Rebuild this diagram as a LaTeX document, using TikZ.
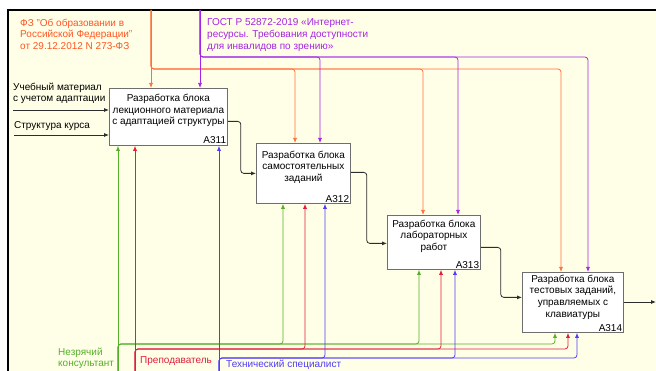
\documentclass[tikz,border=0pt]{standalone}
\usepackage{fontspec}
\setmainfont{Liberation Sans}
\usetikzlibrary{arrows.meta}
\definecolor{bgc}{RGB}{255,255,232}
\definecolor{boxc}{RGB}{110,110,110}
\definecolor{flowc}{RGB}{45,45,45}
\definecolor{fzc}{RGB}{255,85,35}
\definecolor{fzl}{RGB}{255,110,60}
\definecolor{gostc}{RGB}{165,35,230}
\definecolor{greenc}{RGB}{85,175,40}
\definecolor{redc}{RGB}{225,30,60}
\definecolor{bluec}{RGB}{80,60,250}
\begin{document}
\begin{tikzpicture}[x=1pt,y=-1pt,
  every node/.style={font=\fontsize{10}{11.7}\selectfont},
  box/.style={draw=boxc, fill=white, line width=0.8pt, align=center, anchor=north west, inner sep=0pt},
  numlab/.style={anchor=south east, inner sep=1.5pt},
  arr/.style={-{Latex[length=5pt,width=4pt]}},
  flow/.style={arr, draw=flowc, line width=0.8pt, rounded corners=3pt},
  ctlO/.style={arr, draw=fzl, line width=0.75pt, rounded corners=3pt},
  ctlP/.style={arr, draw=gostc, line width=0.75pt, rounded corners=3pt},
  ctlG/.style={arr, draw=greenc, line width=0.75pt, rounded corners=3pt},
  ctlR/.style={arr, draw=redc, line width=0.75pt, rounded corners=3pt},
  ctlB/.style={arr, draw=bluec, line width=0.75pt, rounded corners=3pt},
  lab/.style={anchor=north west, align=left, inner sep=0pt}
]
\useasboundingbox (0,0) rectangle (656,371);
\fill[white] (0,0) rectangle (656,371);
\fill[bgc] (8,10) rectangle (656,371);
\draw[line width=2.5pt] (8,371) -- (8,10) -- (656,10);

% boxes
\node[box, minimum width=118pt, minimum height=57pt] (a311) at (109,88) {Разработка блока\\лекционного материала\\с адаптацией структуры\\[3pt]};
\node[numlab] (n311) at (a311.south east) {A311};
\node[box, minimum width=94pt, minimum height=60pt] (a312) at (256,143) {Разработка блока\\самостоятельных\\заданий\\[3pt]};
\node[numlab] (n312) at (a312.south east) {A312};
\node[box, minimum width=93pt, minimum height=54pt] (a313) at (387,215) {Разработка блока\\лабораторных\\работ\\[3pt]};
\node[numlab] (n313) at (a313.south east) {A313};
\node[box, minimum width=101pt, minimum height=60pt] (a314) at (522,272) {Разработка блока\\тестовых заданий,\\управляемых с\\клавиатуры\\[1pt]};
\node[numlab] (n314) at (a314.south east) {A314};

% labels
\node[lab, text=fzc] (fz) at (20,18.5) {ФЗ "Об образовании в\\Российской Федерации"\\от 29.12.2012 N 273-ФЗ};
\node[lab, text=gostc] (gost) at (207,18.5) {ГОСТ Р 52872-2019 «Интернет-\\ресурсы. Требования доступности\\для инвалидов по зрению»};
\node[lab] (uch) at (13,82.5) {Учебный материал\\с учетом адаптации};
\node[lab] (str) at (14,121.5) {Структура курса};
\node[lab, text=greenc] (nez) at (58,347.5) {Незрячий\\консультант};
\node[lab, text=redc] (prep) at (140,356.5) {Преподаватель};
\node[lab, text=bluec] (tech) at (226,359.5) {Технический специалист};

% inputs
\coordinate (i1) at (13,110);
\coordinate (i2) at (14,135);
\draw[flow] (i1) -- (a311.west |- i1);
\draw[flow] (i2) -- (a311.west |- i2);

% flows between boxes
\draw[flow] ([yshift=-4.5pt]a311.east) -- ++(13,0) |- (a312.west);
\draw[flow] ([yshift=1pt]a312.east) -- ++(16,0) |- ([yshift=-1pt]a313.west);
\draw[flow] ([yshift=-5pt]a313.east) -- ++(20,0) |- ([yshift=5pt]a314.west);
\coordinate (out) at (656,302);
\draw[flow] (a314.east |- out) -- (out);

% controls: FZ
\coordinate (fzT) at (151,10);
\coordinate (o2) at (295,69);
\coordinate (o3) at (423,69);
\coordinate (o4) at (561,69);
\draw[ctlO] (fzT) -- (a311.north -| fzT);
\foreach \c/\b in {o2/a312,o3/a313,o4/a314}
  \draw[ctlO] (fzT) |- (\c) -- (\b.north -| \c);

% controls: GOST
\coordinate (gT) at (200,10);
\coordinate (p2) at (320,57);
\coordinate (p3) at (458,57);
\coordinate (p4) at (588,57);
\draw[ctlP] (gT) -- (a311.north -| gT);
\foreach \c/\b in {p2/a312,p3/a313,p4/a314}
  \draw[ctlP] (gT) |- (\c) -- (\b.north -| \c);

% mechanisms
\coordinate (gB) at (118,371);
\coordinate (g2) at (283,344);
\coordinate (g3) at (419,344);
\coordinate (g4) at (555,344);
\draw[ctlG] (gB) -- (a311.south -| gB);
\foreach \c/\b in {g2/a312,g3/a313,g4/a314}
  \draw[ctlG] (gB) |- (\c) -- (\b.south -| \c);

\coordinate (rB) at (135,371);
\coordinate (r2) at (305,349);
\coordinate (r3) at (441,349);
\coordinate (r4) at (568,349);
\draw[ctlR] (rB) -- (a311.south -| rB);
\foreach \c/\b in {r2/a312,r3/a313,r4/a314}
  \draw[ctlR] (rB) |- (\c) -- (\b.south -| \c);

\coordinate (bB) at (219,371);
\coordinate (b2) at (325,358);
\coordinate (b3) at (455,358);
\coordinate (b4) at (577,358);
\draw[ctlB] (bB) -- (a311.south -| bB);
\foreach \c/\b in {b2/a312,b3/a313,b4/a314}
  \draw[ctlB] (bB) |- (\c) -- (\b.south -| \c);
\end{tikzpicture}
\end{document}
